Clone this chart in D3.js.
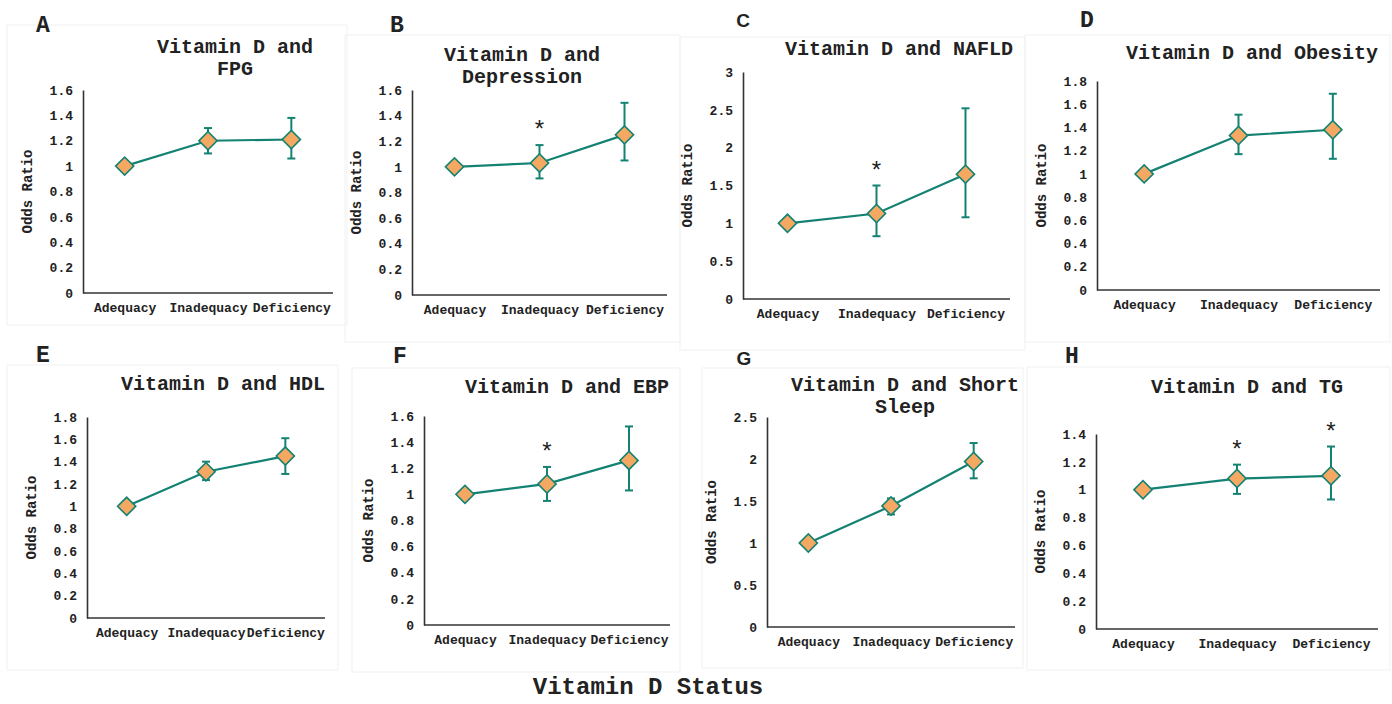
<!DOCTYPE html>
<html>
<head>
<meta charset="utf-8">
<script src="https://cdn.jsdelivr.net/npm/d3@7"></script>
<style>
  body { margin: 0; background: #fff; }
  text { font-family: "Courier New", "Liberation Mono", monospace; font-weight: bold; fill: #222; }
</style>
</head>
<body>
<script>
// values
const categories = ['Adequacy', 'Inadequacy', 'Deficiency'];
const panelLetters = ['A', 'B', 'C', 'D', 'E', 'F', 'G', 'H'];
const titles = [
  ['Vitamin D and', 'FPG'],
  ['Vitamin D and', 'Depression'],
  ['Vitamin D and NAFLD'],
  ['Vitamin D and Obesity'],
  ['Vitamin D and HDL'],
  ['Vitamin D and EBP'],
  ['Vitamin D and Short', 'Sleep'],
  ['Vitamin D and TG']
];
const yMax = [1.6, 1.6, 3, 1.8, 1.8, 1.6, 2.5, 1.4];
const yStep = [0.2, 0.2, 0.5, 0.2, 0.2, 0.2, 0.5, 0.2];
const oddsRatio = [
  [1, 1.20, 1.21], [1, 1.03, 1.25], [1, 1.13, 1.65], [1, 1.33, 1.38],
  [1, 1.31, 1.45], [1, 1.08, 1.26], [1, 1.44, 1.97], [1, 1.08, 1.10]
];
const ciLow = [
  [1, 1.10, 1.06], [1, 0.91, 1.05], [1, 0.83, 1.08], [1, 1.17, 1.13],
  [1, 1.235, 1.29], [1, 0.95, 1.03], [1, 1.34, 1.77], [1, 0.97, 0.93]
];
const ciHigh = [
  [1, 1.30, 1.38], [1, 1.17, 1.50], [1, 1.50, 2.52], [1, 1.51, 1.69],
  [1, 1.40, 1.61], [1, 1.21, 1.52], [1, 1.53, 2.19], [1, 1.18, 1.31]
];
const significant = [
  [0, 0, 0], [0, 1, 0], [0, 1, 0], [0, 0, 0],
  [0, 0, 0], [0, 1, 0], [0, 0, 0], [0, 1, 1]
];
const xTitle = 'Vitamin D Status';
const yTitle = 'Odds Ratio';

// layout of each panel (pixels)
const layout = [
  { box: [7, 25, 340, 300],   ax: [83, 333],    ay: [90, 293],  letter: [43, 32],    title: [235, 53] },
  { box: [345, 35, 335, 307], ax: [412, 667],   ay: [90, 295],  letter: [397, 32],   title: [522, 61] },
  { box: [680, 37, 345, 313], ax: [743, 1010],  ay: [72, 299],  letter: [743, 27],   title: [899, 55], sans: true },
  { box: [1025, 35, 365, 307],ax: [1097, 1380], ay: [81, 290],  letter: [1087, 27],  title: [1252, 59] },
  { box: [7, 365, 331, 305],  ax: [87, 325],    ay: [417, 618], letter: [43, 362],   title: [223, 390] },
  { box: [352, 368, 328, 304],ax: [424, 670],   ay: [416, 625], letter: [400, 363],  title: [567, 393] },
  { box: [702, 368, 321, 300],ax: [767, 1015],  ay: [417, 627], letter: [744, 365],  title: [905, 391], sans: true },
  { box: [1027, 367, 363, 303],ax: [1096, 1378],ay: [434, 629], letter: [1072, 363], title: [1247, 393] }
];

const teal = '#138272';
const orange = '#F4A862';

const svg = d3.select('body').append('svg')
  .attr('width', 1392)
  .attr('height', 704);

panelLetters.forEach((letter, i) => {
  const L = layout[i];
  const g = svg.append('g');

  g.append('rect')
    .attr('x', L.box[0]).attr('y', L.box[1])
    .attr('width', L.box[2]).attr('height', L.box[3])
    .attr('fill', 'none')
    .attr('stroke', '#f1f1f1');

  g.append('text')
    .attr('x', L.letter[0]).attr('y', L.letter[1])
    .attr('text-anchor', 'middle')
    .style('font-family', L.sans ? '"Liberation Sans", Arial, sans-serif' : null)
    .style('font-size', L.sans ? '19px' : '23px')
    .text(letter);

  titles[i].forEach((line, k) => {
    g.append('text')
      .attr('x', L.title[0]).attr('y', L.title[1] + k * 22)
      .attr('text-anchor', 'middle')
      .style('font-size', '20px')
      .text(line);
  });

  const x = d3.scalePoint()
    .domain(categories)
    .range(L.ax)
    .padding(0.5);
  const y = d3.scaleLinear()
    .domain([0, yMax[i]])
    .range([L.ay[1], L.ay[0]]);

  const ticks = d3.range(0, yMax[i] + yStep[i] / 2, yStep[i]);
  const yAxis = g.append('g')
    .attr('transform', `translate(${L.ax[0]},0)`)
    .call(d3.axisLeft(y).tickValues(ticks).tickSize(0).tickPadding(10)
      .tickFormat(d => +d.toFixed(1) + ''));
  yAxis.select('.domain').attr('stroke', '#333').attr('stroke-width', 1.6);
  yAxis.selectAll('text')
    .style('font-size', '13px')
    .style('font-family', '"Courier New", "Liberation Mono", monospace')
    .attr('fill', '#222');

  const xAxis = g.append('g')
    .attr('transform', `translate(0,${L.ay[1]})`)
    .call(d3.axisBottom(x).tickSize(0).tickPadding(10));
  xAxis.select('.domain')
    .attr('d', `M${L.ax[0]},0H${L.ax[1]}`)
    .attr('stroke', '#333').attr('stroke-width', 1.6);
  xAxis.selectAll('text')
    .style('font-size', '13px')
    .style('font-family', '"Courier New", "Liberation Mono", monospace')
    .attr('fill', '#222');

  g.append('text')
    .attr('transform', `translate(${L.ax[0] - 56},${(L.ay[0] + L.ay[1]) / 2}) rotate(-90)`)
    .attr('text-anchor', 'middle')
    .attr('dy', '0.35em')
    .style('font-size', '14px')
    .text(yTitle);

  const pts = categories.map((c, j) => ({
    c, v: oddsRatio[i][j], lo: ciLow[i][j], hi: ciHigh[i][j], sig: significant[i][j]
  }));

  g.append('path')
    .datum(pts)
    .attr('fill', 'none')
    .attr('stroke', teal)
    .attr('stroke-width', 2.2)
    .attr('d', d3.line().x(d => x(d.c)).y(d => y(d.v)));

  const err = g.selectAll('.err')
    .data(pts.filter(d => d.hi > d.lo))
    .enter().append('g')
    .attr('stroke', teal)
    .attr('stroke-width', 2);
  err.append('line')
    .attr('x1', d => x(d.c)).attr('x2', d => x(d.c))
    .attr('y1', d => y(d.lo)).attr('y2', d => y(d.hi));
  err.append('line')
    .attr('x1', d => x(d.c) - 4).attr('x2', d => x(d.c) + 4)
    .attr('y1', d => y(d.lo)).attr('y2', d => y(d.lo));
  err.append('line')
    .attr('x1', d => x(d.c) - 4).attr('x2', d => x(d.c) + 4)
    .attr('y1', d => y(d.hi)).attr('y2', d => y(d.hi));

  g.selectAll('.pt')
    .data(pts)
    .enter().append('path')
    .attr('d', d3.symbol(d3.symbolSquare, 165))
    .attr('transform', d => `translate(${x(d.c)},${y(d.v)}) rotate(45)`)
    .attr('fill', orange)
    .attr('stroke', teal)
    .attr('stroke-width', 1.6);

  g.selectAll('.star')
    .data(pts.filter(d => d.sig))
    .enter().append('text')
    .attr('x', d => x(d.c))
    .attr('y', d => y(d.hi) - 19 + 12)
    .attr('text-anchor', 'middle')
    .style('font-size', '24px')
    .style('font-weight', 'normal')
    .text('*');
});

svg.append('text')
  .attr('x', 648).attr('y', 694)
  .attr('text-anchor', 'middle')
  .style('font-size', '24px')
  .text(xTitle);
</script>
</body>
</html>
